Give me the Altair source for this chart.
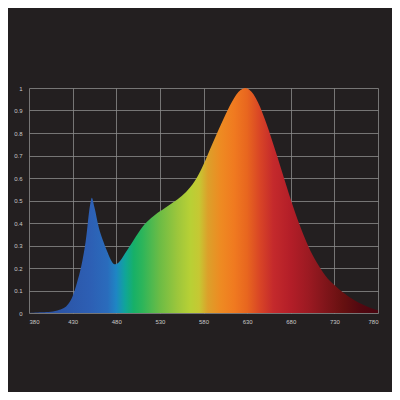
import altair as alt
import pandas as pd

wavelength = [380, 385, 390, 395, 400, 405, 410, 415, 420, 425, 430, 435, 440, 445, 450, 452,
              455, 460, 465, 470, 475, 478, 480, 485, 490, 495, 500, 505, 510, 515, 520, 525,
              530, 535, 540, 545, 550, 555, 560, 565, 570, 575, 580, 585, 590, 595, 600, 605,
              610, 615, 620, 625, 628, 630, 635, 640, 645, 650, 655, 660, 665, 670, 675, 680,
              685, 690, 695, 700, 705, 710, 715, 720, 725, 730, 735, 740, 745, 750, 755, 760,
              765, 770, 775, 780]
intensity = [0.0, 0.001, 0.002, 0.003, 0.004, 0.006, 0.009, 0.014, 0.022, 0.04, 0.075, 0.135,
             0.21, 0.32, 0.48, 0.512, 0.47, 0.38, 0.32, 0.27, 0.228, 0.217, 0.218, 0.235,
             0.265, 0.295, 0.325, 0.355, 0.382, 0.404, 0.422, 0.438, 0.452, 0.465, 0.478,
             0.491, 0.505, 0.52, 0.538, 0.56, 0.587, 0.62, 0.66, 0.705, 0.75, 0.795, 0.838,
             0.88, 0.92, 0.955, 0.982, 0.997, 1.0, 0.998, 0.983, 0.955, 0.915, 0.865, 0.81,
             0.75, 0.69, 0.628, 0.566, 0.505, 0.447, 0.393, 0.343, 0.298, 0.258, 0.223, 0.192,
             0.165, 0.142, 0.124, 0.107, 0.091, 0.077, 0.064, 0.052, 0.042, 0.033, 0.025, 0.018,
             0.012]

x_ticks = [380, 430, 480, 530, 580, 630, 680, 730, 780]
y_ticks = [0, 0.1, 0.2, 0.3, 0.4, 0.5, 0.6, 0.7, 0.8, 0.9, 1]

stop_wavelengths = [380, 420, 450, 470, 480, 490, 500, 510, 530, 550, 565, 575, 585, 600,
                    615, 630, 645, 660, 680, 700, 720, 740, 760, 780]
stop_colors = ["#2b4f9e", "#2c56a8", "#2d5fb4", "#2a6cbc", "#1e86c4", "#10a59a", "#17b068",
               "#2db55a", "#6cbc45", "#9cc63c", "#b8d035", "#c6c833", "#dca02a", "#ee8a22",
               "#f07a20", "#e8661f", "#d84426", "#c42a2c", "#b31e28", "#9c1a22", "#80151a",
               "#661010", "#520810", "#480510"]

df = pd.DataFrame({"wavelength": wavelength, "intensity": intensity})

stops = [alt.GradientStop(offset=(w - 380) / 400, color=c)
         for w, c in zip(stop_wavelengths, stop_colors)]

BG = "#231f20"

chart = alt.Chart(df).mark_area(
    interpolate="monotone",
    color=alt.Gradient(gradient="linear", stops=stops, x1=0, x2=1, y1=0, y2=0),
).encode(
    x=alt.X("wavelength:Q",
            scale=alt.Scale(domain=[380, 780], nice=False, zero=False),
            axis=alt.Axis(values=x_ticks, title=None, ticks=False, domain=False,
                          labelPadding=5, labelFontSize=6, labelColor="#c8c8c8",
                          labelFont="Liberation Sans", gridColor="#8c8c8c", gridWidth=0.8)),
    y=alt.Y("intensity:Q",
            scale=alt.Scale(domain=[0, 1], nice=False),
            axis=alt.Axis(values=y_ticks, title=None, ticks=False, domain=False, format="~g",
                          labelPadding=7, labelFontSize=6, labelColor="#c8c8c8",
                          labelFont="Liberation Sans", gridColor="#8c8c8c", gridWidth=0.8)),
).properties(
    width=349,
    height=225,
    autosize=alt.AutoSizeParams(type="none"),
    padding={"left": 21, "top": 80, "right": 14, "bottom": 79},
    background=BG,
).configure_view(strokeWidth=0)

chart.save("out.html", embed_options={"renderer": "svg", "actions": False})
